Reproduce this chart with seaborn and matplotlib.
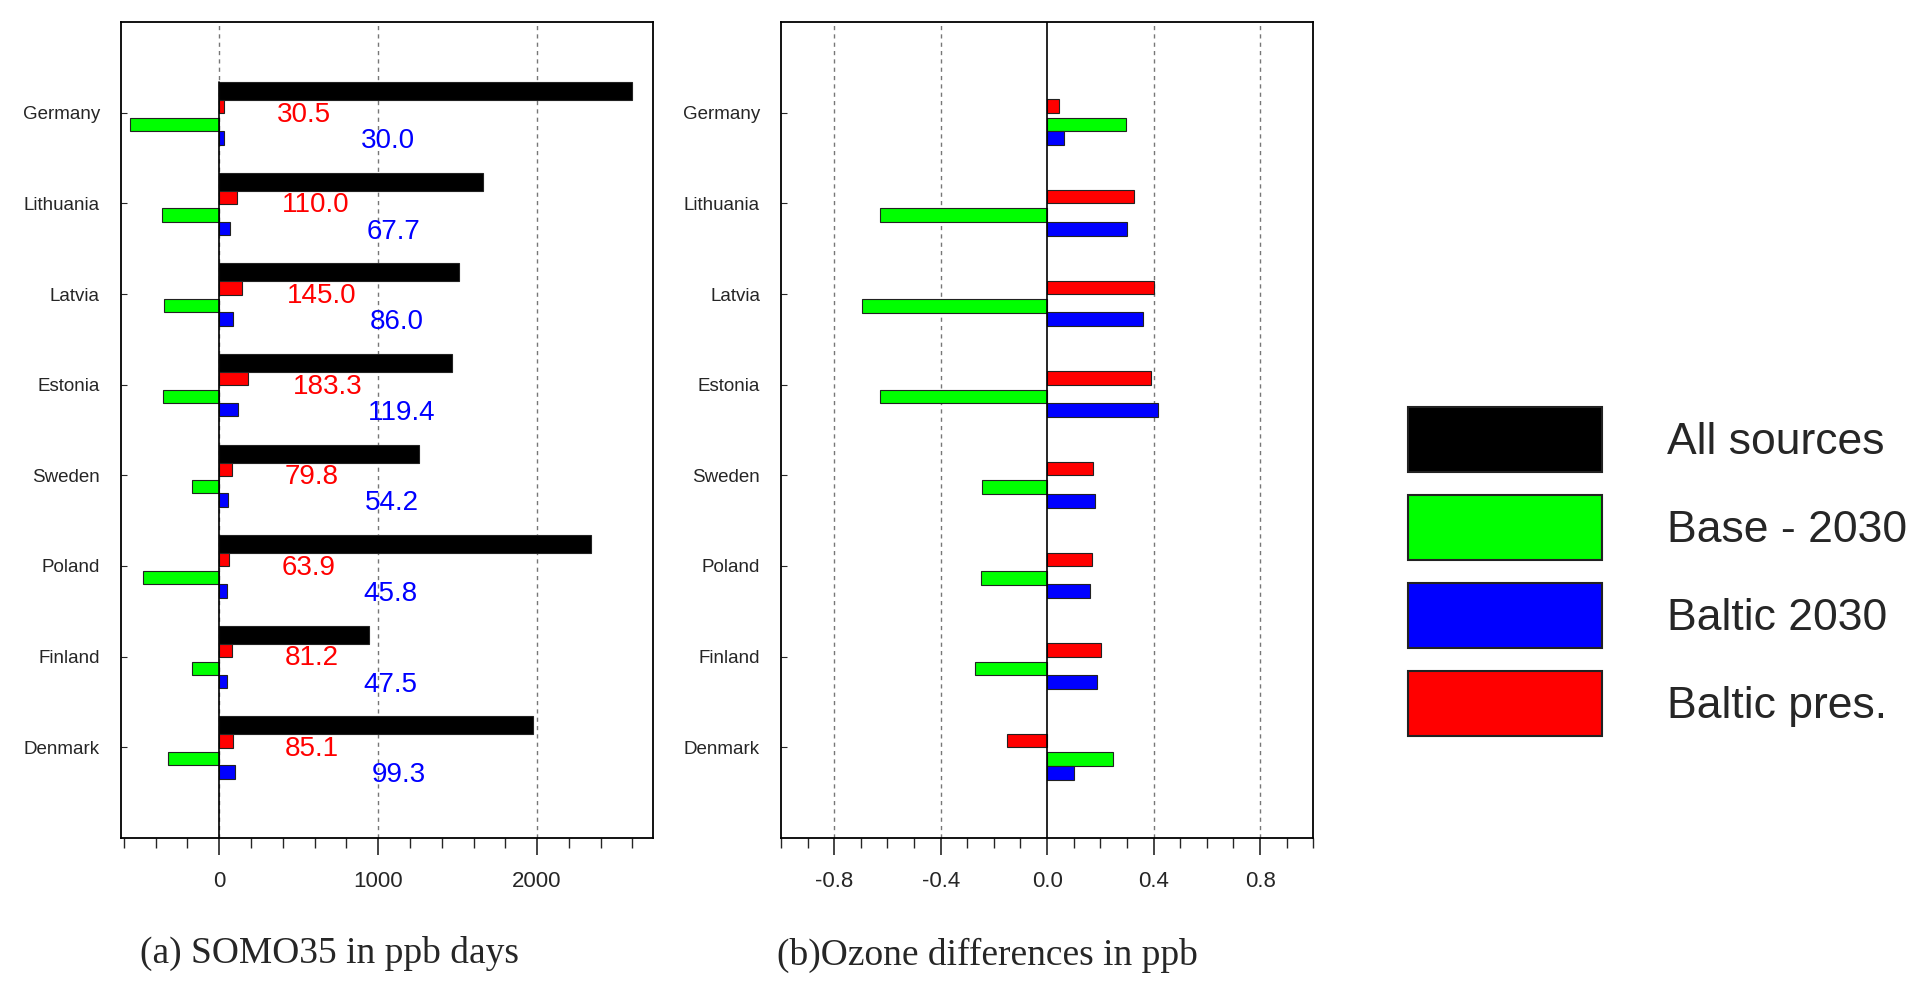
import numpy as np
import pandas as pd
import matplotlib
matplotlib.use("Agg")
import matplotlib.pyplot as plt
from matplotlib.patches import Patch
from matplotlib.ticker import MultipleLocator, FixedLocator
import seaborn as sns

# ---------------- data ----------------
countries = ["Germany", "Lithuania", "Latvia", "Estonia", "Sweden", "Poland", "Finland", "Denmark"]

# (a) SOMO35 in ppb days
somo_all = [2597, 1661, 1506, 1464, 1259, 2337, 942, 1972]
somo_base = [-561, -359, -348, -351, -171, -482, -171, -323]
somo_baltic2030 = [30.0, 67.7, 86.0, 119.4, 54.2, 45.8, 47.5, 99.3]
somo_balticpres = [30.5, 110.0, 145.0, 183.3, 79.8, 63.9, 81.2, 85.1]

# (b) Ozone differences in ppb
oz_balticpres = [0.043, 0.326, 0.402, 0.392, 0.171, 0.167, 0.201, -0.149]
oz_base = [0.296, -0.626, -0.695, -0.628, -0.244, -0.248, -0.269, 0.249]
oz_baltic2030 = [0.065, 0.300, 0.361, 0.417, 0.181, 0.162, 0.186, 0.100]

legend_labels = ["All sources", "Base - 2030", "Baltic 2030", "Baltic pres."]
subtitle_a = "(a) SOMO35 in ppb days"
subtitle_b = "(b)Ozone differences in ppb"

C_ALL, C_BASE, C_B2030, C_PRES = "#000000", "#00ff00", "#0000ff", "#ff0000"

# ---------------- style ----------------
sns.set_theme(style="ticks")
plt.rcParams["font.family"] = ["Liberation Sans", "DejaVu Sans"]
plt.rcParams["axes.linewidth"] = 1.3
plt.rcParams["axes.edgecolor"] = "black"

fig = plt.figure(figsize=(19.22, 9.97), dpi=100)
ax1 = fig.add_axes([0.0628, 0.1597, 0.2770, 0.818])
ax2 = fig.add_axes([0.4063, 0.1597, 0.2770, 0.818])

pos = np.arange(len(countries), dtype=float)
EDGE = "#222222"


def bars(ax, vals, offset, height, color):
    sns.barplot(x=list(vals), y=pos + offset, orient="y", native_scale=True,
                width=height, color=color, saturation=1, edgecolor=EDGE,
                linewidth=0.8, errorbar=None, ax=ax)


# panel (a)
bars(ax1, somo_all, -0.24, 0.20, C_ALL)
bars(ax1, somo_balticpres, -0.0675, 0.145, C_PRES)
bars(ax1, somo_base, 0.1275, 0.145, C_BASE)
bars(ax1, somo_baltic2030, 0.275, 0.15, C_B2030)

for i, (r, b) in enumerate(zip(somo_balticpres, somo_baltic2030)):
    ax1.text(r + 500, pos[i] + 0.02, f"{r:.1f}", color=C_PRES, fontsize=20,
             ha="center", va="center")
    ax1.text(b + 1030, pos[i] + 0.31, f"{b:.1f}", color=C_B2030, fontsize=20,
             ha="center", va="center")

ax1.set_xlim(-620, 2730)
ax1.xaxis.set_major_locator(FixedLocator([0, 1000, 2000]))
ax1.xaxis.set_minor_locator(MultipleLocator(200))

# panel (b)
bars(ax2, oz_balticpres, -0.074, 0.148, C_PRES)
bars(ax2, oz_base, 0.13, 0.15, C_BASE)
bars(ax2, oz_baltic2030, 0.28, 0.155, C_B2030)

ax2.set_xlim(-1.0, 1.0)
ax2.xaxis.set_major_locator(FixedLocator([-0.8, -0.4, 0.0, 0.4, 0.8]))
ax2.xaxis.set_minor_locator(MultipleLocator(0.1))
ax2.xaxis.set_major_formatter(matplotlib.ticker.FormatStrFormatter("%.1f"))

for ax in (ax1, ax2):
    ax.set_ylim(len(countries), -1)
    ax.set_yticks(pos)
    ax.set_yticklabels(countries, fontsize=13.5)
    ax.set_xlabel("")
    ax.set_ylabel("")
    for s in ax.spines.values():
        s.set_visible(True)
        s.set_linewidth(1.3)
        s.set_color("black")
    ax.tick_params(axis="x", which="major", direction="out", length=12,
                   width=1.2, pad=12, labelsize=16, bottom=True, top=False)
    ax.tick_params(axis="x", which="minor", direction="out", length=7,
                   width=1.0, bottom=True, top=False)
    ax.tick_params(axis="y", which="major", direction="in", length=4,
                   width=0.8, pad=15, left=True, right=False)
    ax.grid(False)
    for t in ax.get_xticks():
        if abs(t) > 1e-9:
            ax.axvline(t, color="#777777", linestyle=(0, (3, 3)), linewidth=1.0, zorder=0)

# zero lines: dashed above the first bar in (a), solid elsewhere
ax1.axvline(0, color="#777777", linestyle=(0, (3, 3)), linewidth=1.0, zorder=0)
ax1.plot([0, 0], [pos[0] - 0.34, len(countries)], color="black", linewidth=1.2, zorder=1)
ax2.axvline(0, color="black", linewidth=1.2, zorder=1)

fig.text(0.0727, 0.034, subtitle_a, fontsize=27, family=["Liberation Serif", "DejaVu Serif"],
         ha="left", va="baseline")
fig.text(0.4043, 0.032, subtitle_b, fontsize=27, family=["Liberation Serif", "DejaVu Serif"],
         ha="left", va="baseline")

handles = [Patch(facecolor=c, edgecolor=EDGE, linewidth=1.5)
           for c in (C_ALL, C_BASE, C_B2030, C_PRES)]
fig.legend(handles, legend_labels, loc="center left", bbox_to_anchor=(0.7326, 0.4266),
           frameon=False, fontsize=32, handlelength=4.37, handleheight=1.885,
           labelspacing=0.51, handletextpad=1.45, borderpad=0, borderaxespad=0)

fig.savefig("out.png", dpi=100)
